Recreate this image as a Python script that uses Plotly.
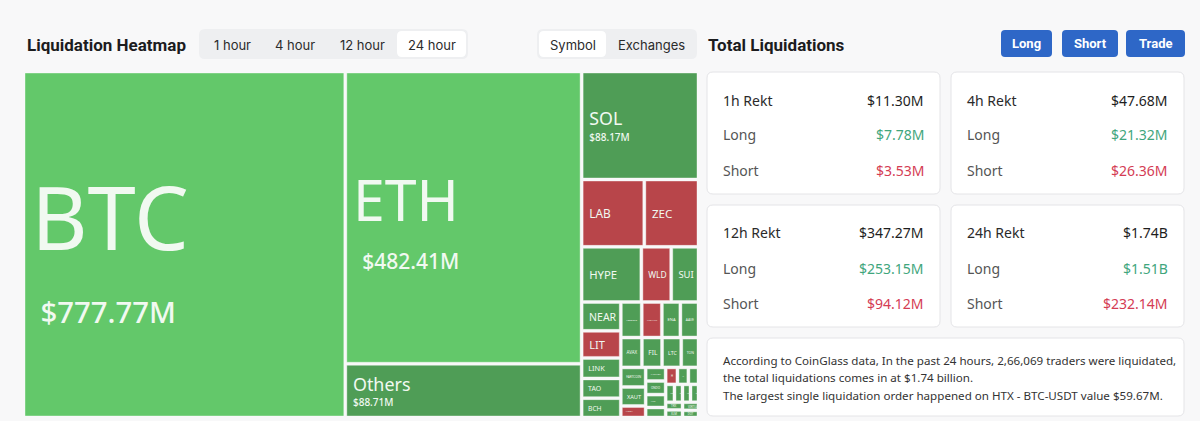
import plotly.graph_objects as go

W, H = 1200, 421

# ---------------- data ----------------
coins = ["BTC", "ETH", "Others", "SOL", "LAB", "ZEC", "HYPE", "WLD", "SUI",
         "NEAR", "LIT", "LINK", "TAO", "BCH", "1000PEPE", "XYZ:AAPL", "ENA",
         "AAVE", "AVAX", "FIL", "LTC", "TON", "FARTCOIN", "XAUT", "XYZ:TSLA",
         "XYZ:NVDA", "ONDO", "APT", "PUMP", "H", "IP", "ADA", "TRUMP", "WIF",
         "PENGU", "UNI", "TRX", "XLM", "VIRTUAL", "DOT"]
liq_musd = [777.77, 482.41, 88.71, 88.17, 29.5, 25.5, 23.0, 11.5, 10.5,
            7.9, 7.4, 5.6, 5.4, 5.3, 5.2, 5.0, 4.6,
            4.5, 4.4, 4.2, 4.0, 3.6, 3.4, 3.3, 2.0,
            1.9, 1.9, 1.8, 1.4, 1.4, 1.3, 1.2, 1.1, 1.0,
            1.0, 1.0, 0.9, 0.9, 0.9, 0.8]
long_share = [0.93, 0.92, 0.80, 0.78, 0.30, 0.28, 0.75, 0.32, 0.74,
              0.76, 0.30, 0.77, 0.72, 0.80, 0.74, 0.25, 0.76,
              0.78, 0.75, 0.70, 0.72, 0.70, 0.71, 0.66, 0.30,
              0.65, 0.73, 0.70, 0.70, 0.28, 0.68, 0.70, 0.70, 0.70,
              0.70, 0.70, 0.70, 0.70, 0.70, 0.70]

tabs = ["1 hour", "4 hour", "12 hour", "24 hour"]
views = ["Symbol", "Exchanges"]
buttons = ["Long", "Short", "Trade"]

periods = ["1h Rekt", "4h Rekt", "12h Rekt", "24h Rekt"]
total_rekt = ["$11.30M", "$47.68M", "$347.27M", "$1.74B"]
long_rekt = ["$7.78M", "$21.32M", "$253.15M", "$1.51B"]
short_rekt = ["$3.53M", "$26.36M", "$94.12M", "$232.14M"]

info_lines = [
    "According to CoinGlass data, In the past 24 hours, 2,66,069 traders were liquidated,",
    "the total liquidations comes in at $1.74 billion.",
    "The largest single liquidation order happened on HTX - BTC-USDT value $59.67M.",
]

# ---------------- helpers ----------------
def px(x):
    return x / W


def py(y):
    return 1 - y / H


def rrect(x0, y0, x1, y1, r, fill, line="rgba(0,0,0,0)", lw=1):
    X0, X1 = px(x0), px(x1)
    Y0, Y1 = py(y0), py(y1)
    rx, ry = r / W, r / H
    path = (f"M {X0+rx},{Y0} L {X1-rx},{Y0} Q {X1},{Y0} {X1},{Y0-ry} "
            f"L {X1},{Y1+ry} Q {X1},{Y1} {X1-rx},{Y1} L {X0+rx},{Y1} "
            f"Q {X0},{Y1} {X0},{Y1+ry} L {X0},{Y0-ry} Q {X0},{Y0} {X0+rx},{Y0} Z")
    return dict(type="path", path=path, xref="paper", yref="paper",
                fillcolor=fill, line=dict(color=line, width=lw), layer="below")


def ann(x, y, text, size=13, color="#333333", xanchor="left", weight="normal",
        family="Noto Sans, Open Sans, sans-serif"):
    return dict(x=px(x), y=py(y), xref="paper", yref="paper", text=text,
                showarrow=False, xanchor=xanchor, yanchor="middle",
                font=dict(size=size, color=color, family=family, weight=weight))


def tile_color(s):
    if s >= 0.85:
        return "#63c86a"
    if s >= 0.5:
        return "#4f9d56"
    return "#b8454a"


def label_size(v):
    return max(11.0, 0.1 * v + 9)


def tile_text(name, v):
    L = label_size(v)
    s = (f"<span style='font-size:12px'>&nbsp;</span>"
         f"<span style='font-size:{L:.1f}px'>{name}</span>")
    if v >= 50:
        vs = 0.28 * L + 5
        indent = "&nbsp;" * (4 if v > 200 else 1)
        s += (f"<br><span style='font-size:12px'>{indent}</span>"
              f"<span style='font-size:{vs:.1f}px;font-weight:500'>${v:.2f}M</span>")
    return s


def base_size(v):
    L = label_size(v)
    return 0.65 * L if v >= 50 else L


# ---------------- treemap ----------------
fig = go.Figure()
fig.add_trace(go.Treemap(
    labels=coins,
    parents=[""] * len(coins),
    values=liq_musd,
    text=[tile_text(c, v) for c, v in zip(coins, liq_musd)],
    textinfo="text",
    textposition="middle left",
    textfont=dict(family="Noto Sans, Open Sans, sans-serif", color="#f1f9f1",
                  size=[base_size(v) for v in liq_musd]),
    marker=dict(colors=[tile_color(s) for s in long_share],
                line=dict(color="rgba(255,255,255,0.38)", width=1),
                pad=dict(t=0, l=0, r=0, b=0), depthfade=False),
    tiling=dict(packing="squarify", squarifyratio=1.618),
    pathbar=dict(visible=False),
    sort=True,
    hoverinfo="skip",
    root=dict(color="#f8f8f9"),
    domain=dict(x=[px(25), px(697)], y=[py(416), py(73)]),
))

shapes = []
annotations = []

# header left
annotations.append(ann(25, 45, "Liquidation Heatmap", 17, "#1c1c1e", weight="bold",
                       family="Roboto, Inter, sans-serif"))
shapes.append(rrect(199, 29, 468, 59, 6, "#eeeff1"))
shapes.append(rrect(397, 31, 466, 57, 5, "#ffffff"))
for t, cx in zip(tabs, [232, 295, 362, 432]):
    annotations.append(ann(cx, 44.5, t, 13, "#2b2b2b", "center",
                           family="Inter, Roboto, sans-serif"))

shapes.append(rrect(537, 29, 697, 59, 6, "#eeeff1"))
shapes.append(rrect(539, 31, 606, 57, 5, "#ffffff"))
for t, cx in zip(views, [573, 651]):
    annotations.append(ann(cx, 44.5, t, 13, "#2b2b2b", "center",
                           family="Inter, Roboto, sans-serif"))

annotations.append(ann(706, 45, "Total Liquidations", 17, "#1c1c1e", weight="bold",
                       family="Roboto, Inter, sans-serif"))

for b, (x0, x1) in zip(buttons, [(1001, 1052), (1062, 1118), (1126, 1185)]):
    shapes.append(rrect(x0, 30, x1, 57, 4, "#2e67c7"))
    annotations.append(ann((x0 + x1) / 2, 43.5, b, 13, "#ffffff", "center",
                           weight="bold", family="Roboto, Inter, sans-serif"))

# cards
card_boxes = [(707, 72, 940, 194), (951, 72, 1184, 194),
              (707, 205, 940, 327), (951, 205, 1184, 327)]
for i, (x0, y0, x1, y1) in enumerate(card_boxes):
    shapes.append(rrect(x0, y0, x1, y1, 6, "#ffffff", "#e4e4e7", 1))
    r0 = y0 + 28
    annotations.append(ann(x0 + 14, r0, periods[i], 14, "#2a2a2a"))
    annotations.append(ann(x1 - 14, r0, total_rekt[i], 14, "#1e1e1e", "right"))
    annotations.append(ann(x0 + 14, r0 + 35, "Long", 14, "#555555"))
    annotations.append(ann(x1 - 14, r0 + 35, long_rekt[i], 14, "#3fa67d", "right"))
    annotations.append(ann(x0 + 14, r0 + 70, "Short", 14, "#555555"))
    annotations.append(ann(x1 - 14, r0 + 70, short_rekt[i], 14, "#d43c54", "right"))

# info box
shapes.append(rrect(707, 338, 1184, 416, 6, "#ffffff", "#e4e4e7", 1))
for line, yy in zip(info_lines, [360, 377.5, 395]):
    annotations.append(ann(721, yy, line, 11.6, "#333333"))

fig.update_layout(
    width=W, height=H,
    margin=dict(l=0, r=0, t=0, b=0),
    paper_bgcolor="#f8f8f9",
    plot_bgcolor="#f8f8f9",
    shapes=shapes,
    annotations=annotations,
    showlegend=False,
)

fig.write_html("out.html")
